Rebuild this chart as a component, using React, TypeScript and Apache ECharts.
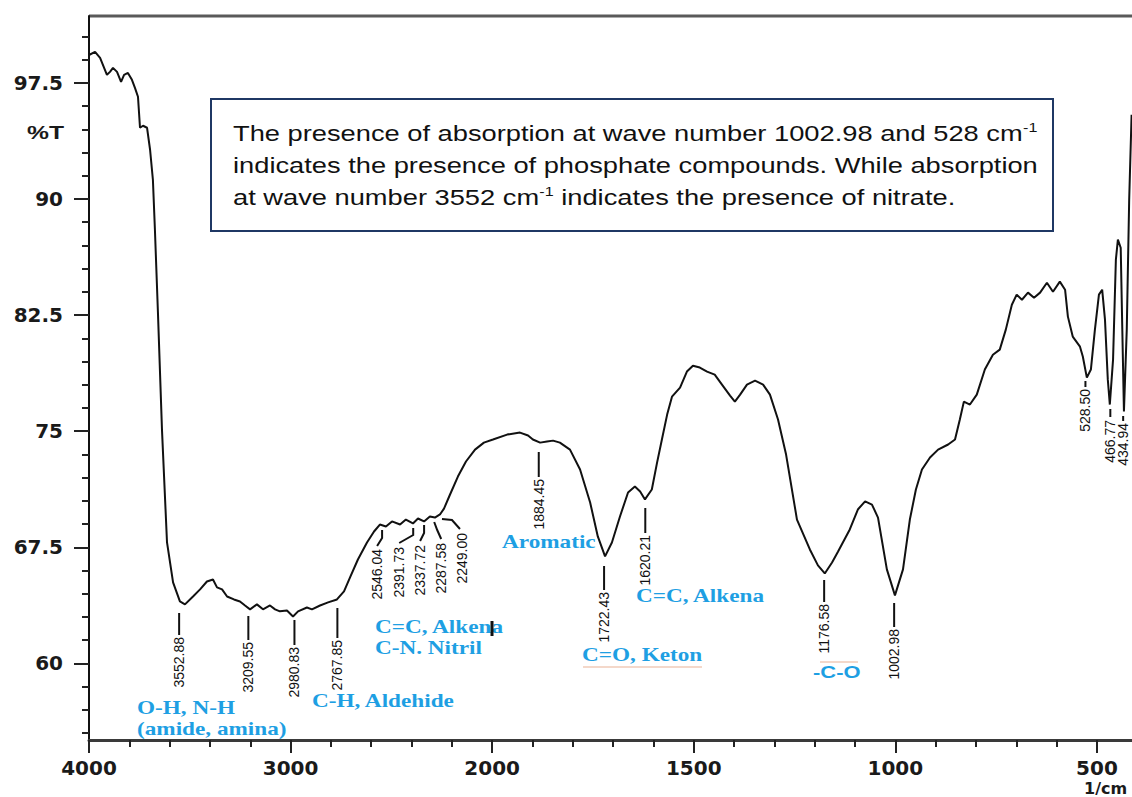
import React, { useEffect, useRef } from "react";
import * as echarts from "echarts";

// ---- spectrum data (wavenumber in 1/cm, transmittance in %T) ----
const wavenumber = [
  4000, 3970, 3945, 3911, 3896, 3881, 3861, 3841, 3826, 3807, 3787, 3772, 3757, 3747, 3732, 3712,
  3697, 3683, 3673, 3658, 3638, 3613, 3583, 3549, 3524, 3484, 3449, 3415, 3385, 3365, 3340, 3315,
  3281, 3251, 3226, 3201, 3167, 3137, 3102, 3077, 3053, 3018, 2988, 2963, 2919, 2894, 2854, 2814,
  2770, 2735, 2705, 2666, 2621, 2586, 2557, 2527, 2497, 2457, 2428, 2393, 2368, 2338, 2309, 2284,
  2259, 2239, 2209, 2170, 2130, 2085, 2041, 1998, 1963, 1931, 1911, 1899, 1881, 1864, 1849, 1832,
  1807, 1782, 1757, 1738, 1720, 1703, 1683, 1663, 1646, 1633, 1621, 1604, 1591, 1579, 1566, 1554,
  1534, 1517, 1502, 1485, 1467, 1448, 1430, 1410, 1398, 1385, 1368, 1348, 1328, 1311, 1291, 1271,
  1244, 1212, 1192, 1175, 1157, 1142, 1113, 1093, 1075, 1058, 1043, 1021, 1001, 981, 964, 949,
  934, 914, 894, 869, 852, 840, 830, 815, 798, 778, 758, 741, 726, 711, 699, 686,
  671, 656, 641, 624, 609, 592, 579, 572, 560, 542, 535, 525, 515, 505, 495, 487,
  480, 473, 468, 460, 453, 448, 441, 437, 433, 426, 420, 414,
];
const transmittance = [
  99.3, 99.5, 99.11, 98.02, 98.21, 98.47, 98.21, 97.57, 98.02, 98.14, 97.7, 97.18, 96.6, 94.6, 94.73, 94.6,
  93.18, 91.24, 88.01, 82.66, 75.1, 67.81, 65.23, 64.0, 63.81, 64.32, 64.78, 65.29, 65.42, 64.91, 64.78, 64.32,
  64.13, 64.0, 63.74, 63.49, 63.81, 63.49, 63.74, 63.49, 63.36, 63.42, 63.03, 63.36, 63.61, 63.49, 63.74, 63.94,
  64.13, 64.65, 65.55, 66.71, 67.81, 68.52, 68.97, 68.84, 69.17, 68.97, 69.29, 69.04, 69.36, 69.17, 69.49, 69.42,
  69.62, 70.0, 70.91, 72.07, 73.04, 73.81, 74.26, 74.46, 74.78, 74.91, 74.72, 74.46, 74.26, 74.33, 74.39, 74.26,
  73.81, 72.52, 70.39, 68.2, 66.91, 67.81, 69.49, 71.04, 71.42, 71.1, 70.59, 71.23, 72.97, 74.46, 76.07, 77.23,
  77.81, 78.85, 79.23, 79.11, 78.85, 78.65, 78.01, 77.3, 76.91, 77.36, 78.01, 78.27, 78.01, 77.36, 75.75, 73.49,
  69.29, 67.36, 66.33, 65.81, 66.52, 67.23, 68.65, 69.94, 70.46, 70.26, 69.42, 66.07, 64.39, 66.07, 69.29, 71.23,
  72.52, 73.3, 73.81, 74.14, 74.46, 75.75, 76.91, 76.72, 77.36, 78.98, 79.94, 80.27, 81.56, 83.17, 83.82, 83.49,
  83.95, 83.62, 83.95, 84.59, 84.01, 84.66, 84.14, 82.4, 81.11, 80.46, 79.82, 78.46, 78.98, 81.56, 83.82, 84.14,
  82.2, 78.33, 76.72, 79.62, 86.08, 87.37, 86.85, 81.5, 76.27, 81.56, 89.95, 95.44,
];

// ---- axis ticks ----
const xTickLabels = [4000, 3000, 2000, 1500, 1000, 500];
const yTickLabels = [60, 67.5, 75, 82.5, 90, 97.5];

// ---- peak labels (wavenumber) ----
const peakValues = [3552.88, 3209.55, 2980.83, 2767.85, 1884.45, 1722.43, 1620.21, 1176.58, 1002.98, 528.5, 466.77, 434.94];
const clusterPeaks = [2546.04, 2391.73, 2337.72, 2287.58, 2249.0];

// ---- band assignment labels ----
const bandLabels = ["O-H, N-H", "(amide, amina)", "C-H, Aldehide", "C=C, Alkena", "C-N. Nitril", "Aromatic", "C=O, Keton", "C=C, Alkena", "-C-O"];

const noteLines = [
  "The presence of absorption at wave number 1002.98 and 528 cm{sup|-1}",
  "indicates the presence of phosphate compounds. While absorption",
  "at wave number 3552 cm{sup|-1} indicates the presence of nitrate.",
];

// piecewise wavenumber scale (scale change at 2000 1/cm)
function toT(wn: number) {
  return wn >= 2000 ? (4000 - wn) / 1000 : 2 + (2000 - wn) / 500;
}
function fromT(t: number) {
  return t <= 2 ? 4000 - t * 1000 : 2000 - (t - 2) * 500;
}

const X_MAX = toT(413);
const Y_MIN = 55.05;
const Y_MAX = 101.82;

export default function App() {
  const ref = useRef<HTMLDivElement>(null);

  useEffect(() => {
    if (!ref.current) return;
    const chart = echarts.init(ref.current, null, { renderer: "svg" });

    const minorX: number[] = [];
    for (let i = 0; i * 0.2 <= X_MAX; i++) minorX.push(Math.round(i * 2) / 10);
    const majorX = xTickLabels.map(toT);
    const minorY: number[] = [];
    for (let v = 55.5; v <= Y_MAX; v += 1.5) minorY.push(Math.round(v * 10) / 10);

    const labelFont = { fontFamily: "DejaVu Sans", fontWeight: "bold" as const, fontSize: 20, color: "#1a1a1a" };

    chart.setOption({
      animation: false,
      grid: { left: 89, right: 0, top: 16, bottom: 57 },
      xAxis: [
        {
          type: "value", min: 0, max: X_MAX, position: "bottom",
          axisLine: { show: true, lineStyle: { color: "#3a3a3a", width: 3 } },
          axisTick: { show: true, customValues: minorX, length: 7, lineStyle: { color: "#222", width: 2 } },
          axisLabel: { show: false },
          splitLine: { show: false },
        },
        {
          type: "value", min: 0, max: X_MAX, position: "bottom",
          axisLine: { show: false },
          axisTick: { show: true, customValues: majorX, length: 13, lineStyle: { color: "#222", width: 2 } },
          axisLabel: { show: true, customValues: majorX, margin: 18, formatter: (v: number) => String(Math.round(fromT(v))), ...labelFont },
          splitLine: { show: false },
        },
      ],
      yAxis: [
        {
          type: "value", min: Y_MIN, max: Y_MAX, position: "left",
          axisLine: { show: true, lineStyle: { color: "#111", width: 2 } },
          axisTick: { show: true, customValues: minorY, length: 7, lineStyle: { color: "#222", width: 2 } },
          axisLabel: { show: false },
          splitLine: { show: false },
        },
        {
          type: "value", min: Y_MIN, max: Y_MAX, position: "left",
          axisLine: { show: false },
          axisTick: { show: true, customValues: yTickLabels, length: 15, lineStyle: { color: "#222", width: 2 } },
          axisLabel: { show: true, customValues: yTickLabels, margin: 26, formatter: (v: number) => String(v), ...labelFont },
          splitLine: { show: false },
        },
      ],
      series: [
        {
          type: "line", xAxisIndex: 0, yAxisIndex: 0, symbol: "none", silent: true,
          lineStyle: { color: "#111", width: 2 },
          data: wavenumber.map((w, i) => [toT(w), transmittance[i]]),
        },
      ],
    });

    const px = (wn: number) => chart.convertToPixel({ xAxisIndex: 0 }, toT(wn)) as number;

    const g: any[] = [];
    // top frame
    g.push({ type: "line", shape: { x1: 89, y1: 16, x2: 1132, y2: 16 }, style: { stroke: "#5a5a5a", lineWidth: 3 } });

    // note box
    g.push({ type: "rect", shape: { x: 211, y: 99, width: 842, height: 132 }, style: { fill: "#fff", stroke: "#1f3864", lineWidth: 2 } });
    const noteY = [133, 165, 197];
    noteLines.forEach((t, i) => {
      g.push({
        type: "text", x: 233, y: noteY[i], scaleX: 1.24,
        style: {
          text: t, fill: "#111", font: '22px "Liberation Sans"', align: "left", verticalAlign: "middle", lineHeight: 23,
          rich: { sup: { fontSize: 13, fontFamily: "Liberation Sans", fill: "#111", verticalAlign: "top" } },
        },
      });
    });

    // axis names
    g.push({ type: "text", x: 64, y: 133, scaleX: 1.3, style: { text: "%T", fill: "#1a1a1a", font: 'bold 19px "Liberation Sans"', align: "right", verticalAlign: "middle" } });
    g.push({ type: "text", x: 1084, y: 780, style: { text: "1/cm", fill: "#1a1a1a", font: 'bold 16px "DejaVu Sans"', align: "left", verticalAlign: "top" } });

    // single peak labels: [lineTop, lineBottom, textTop]
    const peakLayout = [
      [613, 635, 637], [616, 640, 642], [620, 645, 647], [608, 638, 640],
      [452, 477, 479], [566, 590, 592], [508, 533, 535], [580, 602, 604],
      [603, 627, 629], [381, 387, 389], [409, 417, 420], [416, 421, 423],
    ];
    peakValues.forEach((wn, i) => {
      const x = px(wn);
      const [a, b, c] = peakLayout[i];
      g.push({ type: "line", shape: { x1: x, y1: a, x2: x, y2: b }, style: { stroke: "#111", lineWidth: 2 } });
      g.push({
        type: "text", x, y: c, rotation: Math.PI / 2,
        style: { text: wn.toFixed(2), fill: "#111", font: '14px "Liberation Sans"', align: "right", verticalAlign: "middle" },
      });
    });

    // cluster labels with bent leaders: [[pts relative], labelX, textTop]
    const clusterLayout: [number[][], number, number][] = [
      [[[0, 530], [0, 538], [-5, 546]], 377, 549],
      [[[0, 528], [0, 535], [-14, 543]], 399, 547],
      [[[0, 525], [0, 533], [-4, 541]], 420, 545],
      [[[0, 522], [3, 530], [7, 539]], 441, 543],
      [[[0, 519], [10, 520], [18, 529]], 462, 533],
    ];
    clusterPeaks.forEach((wn, i) => {
      const x = px(wn);
      const [pts, lx, top] = clusterLayout[i];
      g.push({ type: "polyline", shape: { points: pts.map(([dx, y]) => [x + dx, y]) }, style: { stroke: "#111", lineWidth: 2, fill: null } });
      g.push({
        type: "text", x: lx, y: top, rotation: Math.PI / 2,
        style: { text: wn.toFixed(2), fill: "#111", font: '14px "Liberation Sans"', align: "right", verticalAlign: "middle" },
      });
    });

    // band labels
    const bandPos = [[137, 708], [137, 729], [312, 701], [375, 627], [375, 648], [502, 542], [582, 655], [636, 596], [813, 672]];
    bandLabels.forEach((t, i) => {
      const sans = i === bandLabels.length - 1;
      g.push({
        type: "text", x: bandPos[i][0], y: bandPos[i][1], scaleX: 1.29,
        style: {
          text: t, fill: "#1e9fe3",
          font: sans ? 'bold 17px "Liberation Sans"' : 'bold 18px "Liberation Serif"',
          align: "left", verticalAlign: "middle",
        },
      });
    });

    // faint marks from the source image
    g.push({ type: "line", shape: { x1: 583, y1: 667, x2: 702, y2: 667 }, style: { stroke: "rgba(225,140,100,0.45)", lineWidth: 1.5 } });
    g.push({ type: "line", shape: { x1: 820, y1: 662, x2: 858, y2: 662 }, style: { stroke: "rgba(225,140,100,0.45)", lineWidth: 1.5 } });
    g.push({ type: "line", shape: { x1: 492, y1: 621, x2: 492, y2: 636 }, style: { stroke: "#111", lineWidth: 3 } });

    chart.setOption({ graphic: { elements: g } });

    return () => chart.dispose();
  }, []);

  return <div ref={ref} style={{ position: "fixed", left: 0, top: 0, width: 1132, height: 797, background: "#fff" }} />;
}
